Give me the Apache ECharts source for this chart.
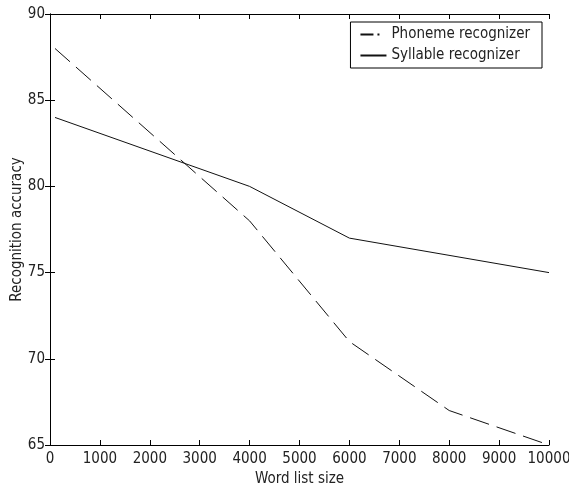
<!DOCTYPE html>
<html>
<head>
<meta charset="utf-8">
<script src="https://cdn.jsdelivr.net/npm/echarts@6/dist/echarts.min.js"></script>
<style>
html,body{margin:0;padding:0;background:#fff;}
#c{width:569px;height:486px;}
</style>
</head>
<body>
<div id="c"></div>
<script>
const seriesNames = ['Phoneme recognizer', 'Syllable recognizer'];
const phonemeX = [100, 4000, 6000, 8000, 10000];
const phonemeY = [88, 78, 71, 67, 65];
const syllableX = [100, 4000, 6000, 10000];
const syllableY = [84, 80, 77, 75];
const xTitle = 'Word list size';
const yTitle = 'Recognition accuracy';

const FONT = '"Liberation Sans Narrow", "DejaVu Sans Condensed", "Liberation Sans", sans-serif';
const TXT = '#222';

const chart = echarts.init(document.getElementById('c'), null, {renderer: 'canvas'});
const axisLineStyle = {lineStyle: {color: '#000', width: 1}};
const baseTick = {show: true, inside: true, length: 5, lineStyle: {color: '#000', width: 1}};

chart.setOption({
  animation: false,
  backgroundColor: '#fff',
  grid: {left: 50, top: 14, right: 20, bottom: 41, containLabel: false, outerBoundsMode: 'none'},
  legend: {
    data: [
      {name: seriesNames[0], lineStyle: {type: [13, 4, 2, 20]}},
      {name: seriesNames[1]}
    ],
    orient: 'vertical',
    right: 27,
    top: 22,
    backgroundColor: '#fff',
    borderColor: '#000',
    borderWidth: 1,
    borderRadius: 0,
    padding: [5, 12, 5, 9],
    itemWidth: 26,
    itemHeight: 14,
    itemGap: 6,
    itemStyle: {opacity: 0, borderWidth: 0},
    textStyle: {fontFamily: FONT, fontSize: 15, color: TXT}
  },
  xAxis: [
    {
      type: 'value', min: 0, max: 10000, interval: 1000,
      name: xTitle, nameLocation: 'middle', nameGap: 27, nameMoveOverlap: false,
      nameTextStyle: {fontFamily: FONT, fontSize: 15, color: TXT},
      axisLine: axisLineStyle, axisTick: baseTick,
      axisLabel: {fontFamily: FONT, fontSize: 15, color: TXT, margin: 7, formatter: v => String(v)},
      splitLine: {show: false}
    },
    {
      type: 'value', min: 0, max: 10000, interval: 1000, position: 'top',
      axisLine: axisLineStyle, axisTick: baseTick,
      axisLabel: {show: false}, splitLine: {show: false}
    }
  ],
  yAxis: [
    {
      type: 'value', min: 65, max: 90, interval: 5,
      name: yTitle, nameLocation: 'middle', nameGap: 25, nameMoveOverlap: false,
      nameTextStyle: {fontFamily: FONT, fontSize: 15, color: TXT},
      axisLine: {show: true, lineStyle: {color: '#000', width: 1}}, axisTick: baseTick,
      axisLabel: {fontFamily: FONT, fontSize: 15, color: TXT, margin: 5},
      splitLine: {show: false}
    },
    {
      type: 'value', min: 65, max: 90, interval: 5, position: 'right',
      axisLine: {show: true, lineStyle: {color: '#000', width: 1}}, axisTick: baseTick,
      axisLabel: {show: false}, splitLine: {show: false}
    }
  ],
  series: [
    {
      name: seriesNames[0], type: 'line', symbol: 'none',
      data: phonemeX.map((x, i) => [x, phonemeY[i]]),
      lineStyle: {color: '#111', width: 1, type: [20, 8]},
      itemStyle: {color: '#111'}
    },
    {
      name: seriesNames[1], type: 'line', symbol: 'none',
      data: syllableX.map((x, i) => [x, syllableY[i]]),
      lineStyle: {color: '#111', width: 1, type: 'solid'},
      itemStyle: {color: '#111'}
    }
  ]
});
</script>
</body>
</html>
